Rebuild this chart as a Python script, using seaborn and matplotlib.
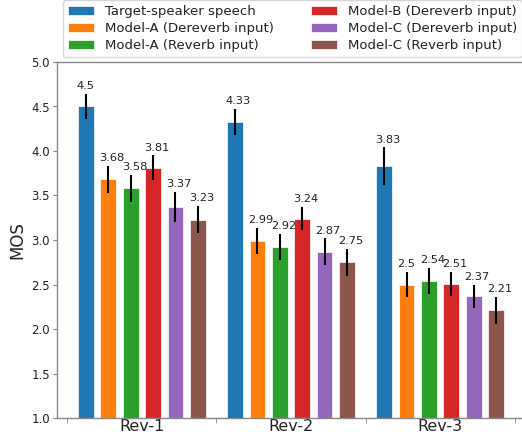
import numpy as np
import pandas as pd
import matplotlib
matplotlib.use("Agg")
import matplotlib.pyplot as plt
import seaborn as sns
from matplotlib.ticker import FixedLocator, FormatStrFormatter

conditions = ["Rev-1", "Rev-2", "Rev-3"]
systems = [
    "Target-speaker speech",
    "Model-A (Dereverb input)",
    "Model-A (Reverb input)",
    "Model-B (Dereverb input)",
    "Model-C (Dereverb input)",
    "Model-C (Reverb input)",
]
# mean opinion scores, one list per system (Rev-1, Rev-2, Rev-3)
target_speech = [4.5, 4.33, 3.83]
model_a_dereverb = [3.68, 2.99, 2.5]
model_a_reverb = [3.58, 2.92, 2.54]
model_b_dereverb = [3.81, 3.24, 2.51]
model_c_dereverb = [3.37, 2.87, 2.37]
model_c_reverb = [3.23, 2.75, 2.21]
# half-widths of the confidence intervals
target_speech_err = [0.14, 0.146, 0.21]
model_a_dereverb_err = [0.15, 0.15, 0.146]
model_a_reverb_err = [0.155, 0.146, 0.145]
model_b_dereverb_err = [0.14, 0.13, 0.135]
model_c_dereverb_err = [0.17, 0.15, 0.13]
model_c_reverb_err = [0.155, 0.15, 0.155]

scores = [target_speech, model_a_dereverb, model_a_reverb,
          model_b_dereverb, model_c_dereverb, model_c_reverb]
errors = [target_speech_err, model_a_dereverb_err, model_a_reverb_err,
          model_b_dereverb_err, model_c_dereverb_err, model_c_reverb_err]

df = pd.DataFrame(
    [(c, s, scores[i][j]) for i, s in enumerate(systems) for j, c in enumerate(conditions)],
    columns=["condition", "system", "MOS"],
)

sns.set_style("white")
plt.rcParams["font.family"] = ["DejaVu Sans"]

fig = plt.figure(figsize=(5.22, 4.36), dpi=100)
ax = fig.add_axes([57 / 522, 18 / 436, 468 / 522, 356 / 436])

palette = sns.color_palette("tab10", 6)
sns.barplot(data=df, x="condition", y="MOS", hue="system", order=conditions,
            hue_order=systems, palette=palette, saturation=1, errorbar=None,
            width=0.9, gap=0.29, edgecolor="white", linewidth=0.5, ax=ax)

bar_groups = list(ax.containers)
for i, cont in enumerate(bar_groups):
    for j, bar in enumerate(cont):
        val = scores[i][j]
        err = errors[i][j]
        xc = bar.get_x() + bar.get_width() / 2
        ax.errorbar(xc, val, yerr=err, fmt="none", ecolor="black",
                    elinewidth=1.5, capsize=0, zorder=3)
        ax.text(bar.get_x() - 0.008, val + err + 0.03, f"{val:g}",
                ha="left", va="bottom", fontsize=8.2, color="#222222")

ax.set_ylim(1.0, 5.0)
ax.set_xlim(-0.57, 2.57)
ax.set_yticks(np.arange(1.0, 5.01, 0.5))
ax.yaxis.set_major_formatter(FormatStrFormatter("%.1f"))
ax.tick_params(axis="y", labelsize=8.5, length=3, color="#888888", left=True,
               pad=2, labelcolor="#222222")
ax.tick_params(axis="x", which="major", labelsize=11.5, length=0, pad=1,
               labelcolor="#222222")
ax.xaxis.set_minor_locator(FixedLocator([-0.5, 0.5, 1.5, 2.5]))
ax.tick_params(axis="x", which="minor", length=3.5, color="#888888", bottom=True)
ax.set_xlabel("")
ax.set_ylabel("MOS", fontsize=12, labelpad=4, color="#222222")

for side in ["left", "bottom", "top", "right"]:
    ax.spines[side].set_color("#888888")
    ax.spines[side].set_linewidth(1.0)

handles, labels = ax.get_legend_handles_labels()
leg = ax.legend(handles[:len(systems)], labels[:len(systems)], loc="lower center",
                bbox_to_anchor=(0.503, 1.0), ncol=2, fontsize=9.5, labelspacing=0.3,
                columnspacing=2.8, borderaxespad=0.35, frameon=True)
for t in leg.get_texts():
    t.set_color("#222222")

fig.savefig("out.png", dpi=100)
